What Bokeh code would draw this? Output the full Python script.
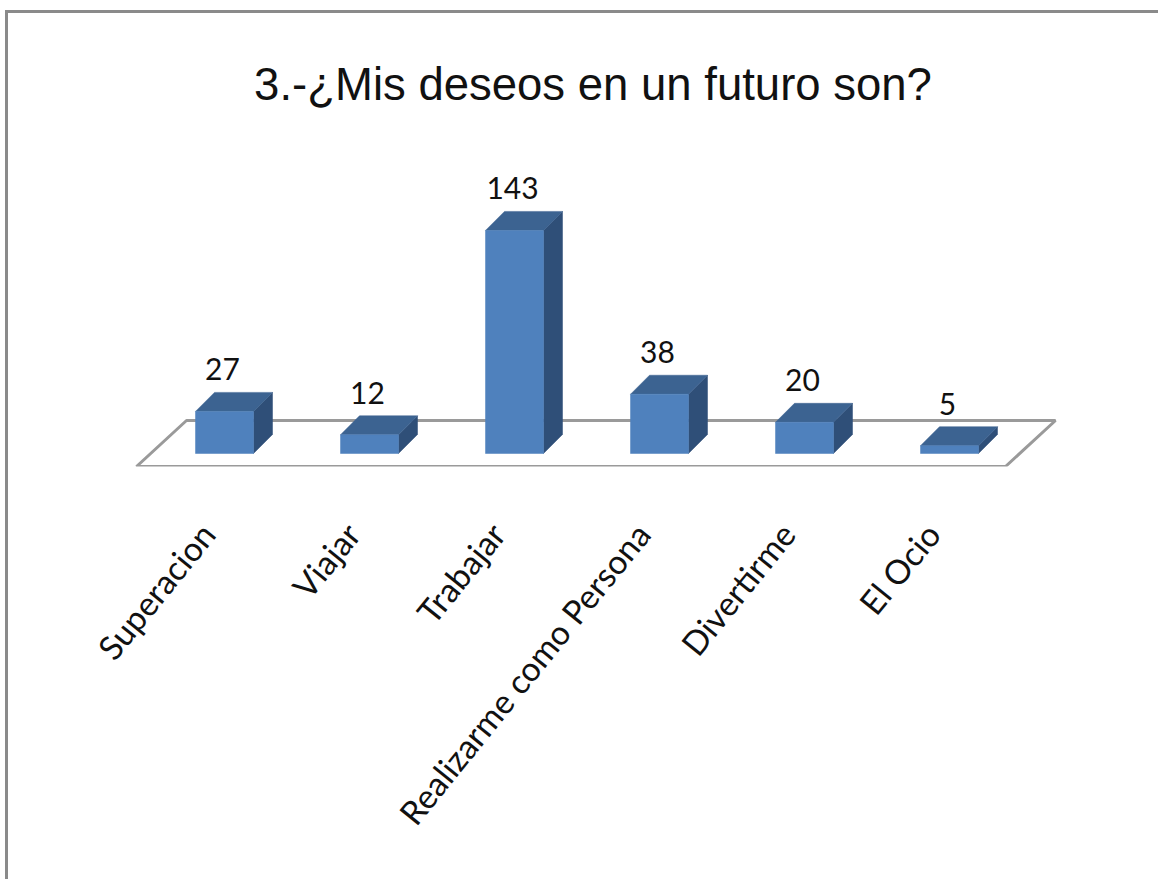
from math import radians
from bokeh.plotting import figure
from bokeh.models import FixedTicker, ColumnDataSource, Range1d
from bokeh.core.properties import value
from bokeh.embed import file_html
from bokeh.resources import INLINE

title_text = "3.-¿Mis deseos en un futuro son?"
categories = ["Superacion", "Viajar", "Trabajar", "Realizarme como Persona", "Divertirme", "El Ocio"]
values = [27, 12, 143, 38, 20, 5]

# scale: 145 px per category, 1.56 px per unit
PX_X, PX_Y = 145.0, 1.56
half = 29 / PX_X
dx = 19 / PX_X
dy = 19 / PX_Y
FRONT, TOP, SIDE = "#4F81BD", "#3C6391", "#2F4F78"

# picture coordinates of the figure's inner box start at (8, 13) with border
ORG_X, ORG_Y = 8, 13
W, H = 1153, 869
FRAME_L, FRAME_T, FRAME_B = 24, 130, 466
LEFT, TOP_B = FRAME_L - ORG_X, FRAME_T - ORG_Y
BOTTOM = H - (FRAME_B - ORG_Y)
frame_w = W - LEFT
frame_h = FRAME_B - FRAME_T
x0 = (FRAME_L - 224) / PX_X
y0 = (453 - FRAME_B) / PX_Y

p = figure(width=W, height=H, output_backend="svg", toolbar_location=None,
           x_range=Range1d(x0, x0 + frame_w / PX_X),
           y_range=Range1d(y0, y0 + frame_h / PX_Y),
           min_border_left=LEFT, min_border_right=0,
           min_border_top=TOP_B, min_border_bottom=BOTTOM,
           background_fill_color="white", border_fill_color="white",
           outline_line_color=None)
p.styles = {"margin-top": "10px", "margin-left": "5px",
            "border-top": "3px solid #8a8a8a", "border-left": "3px solid #8a8a8a"}

p.title.text = title_text
p.title.text_font = "Liberation Sans"
p.title.text_font_size = "45.5px"
p.title.text_font_style = "normal"
p.title.text_color = "#111111"
p.title.align = "center"
p.title.standoff = 42

p.grid.visible = False
p.yaxis.visible = False
ax = p.xaxis[0]
label_shift = 17 / PX_X
tick_pos = [round(i - label_shift, 4) for i in range(len(categories))]
ax.ticker = FixedTicker(ticks=tick_pos)
ax.major_label_overrides = dict(zip(tick_pos, categories))
ax.major_label_orientation = radians(51)
ax.major_label_standoff = 55
ax.major_label_text_font = "Lato"
ax.major_label_text_font_size = "33.5px"
ax.major_label_text_color = "#111111"
ax.axis_line_color = None
ax.major_tick_line_color = None
ax.minor_tick_line_color = None

# floor plane, behind the bars
n = len(categories)
fx = [-88 / PX_X, (1006 - 225) / PX_X, (1056 - 225) / PX_X, (187 - 225) / PX_X]
fy = [(453 - 466) / PX_Y, (453 - 466) / PX_Y, (453 - 420) / PX_Y, (453 - 420) / PX_Y]
p.patch(fx, fy, fill_color="white", line_color="#9a9a9a", line_width=3)

fronts_x, fronts_y, tops_x, tops_y, sides_x, sides_y = [], [], [], [], [], []
for i, v in enumerate(values):
    l, r = i - half, i + half
    fronts_x.append([l, r, r, l]); fronts_y.append([0, 0, v, v])
    tops_x.append([l, r, r + dx, l + dx]); tops_y.append([v, v, v + dy, v + dy])
    sides_x.append([r, r + dx, r + dx, r]); sides_y.append([0, dy, v + dy, v])

p.patches(sides_x, sides_y, fill_color=SIDE, line_color=SIDE, line_width=0.5)
p.patches(tops_x, tops_y, fill_color=TOP, line_color=TOP, line_width=0.5)
p.patches(fronts_x, fronts_y, fill_color=FRONT, line_color=FRONT, line_width=0.5)

src = ColumnDataSource(dict(x=list(range(n)), y=[v + dy + 23 / PX_Y for v in values], t=[str(v) for v in values]))
p.text("x", "y", text="t", source=src, text_align="center", text_baseline="alphabetic",
       x_offset=-2, text_font=value("Lato"), text_font_size="30px", text_color="#111111")

open("out.html", "w").write(file_html(p, INLINE))
